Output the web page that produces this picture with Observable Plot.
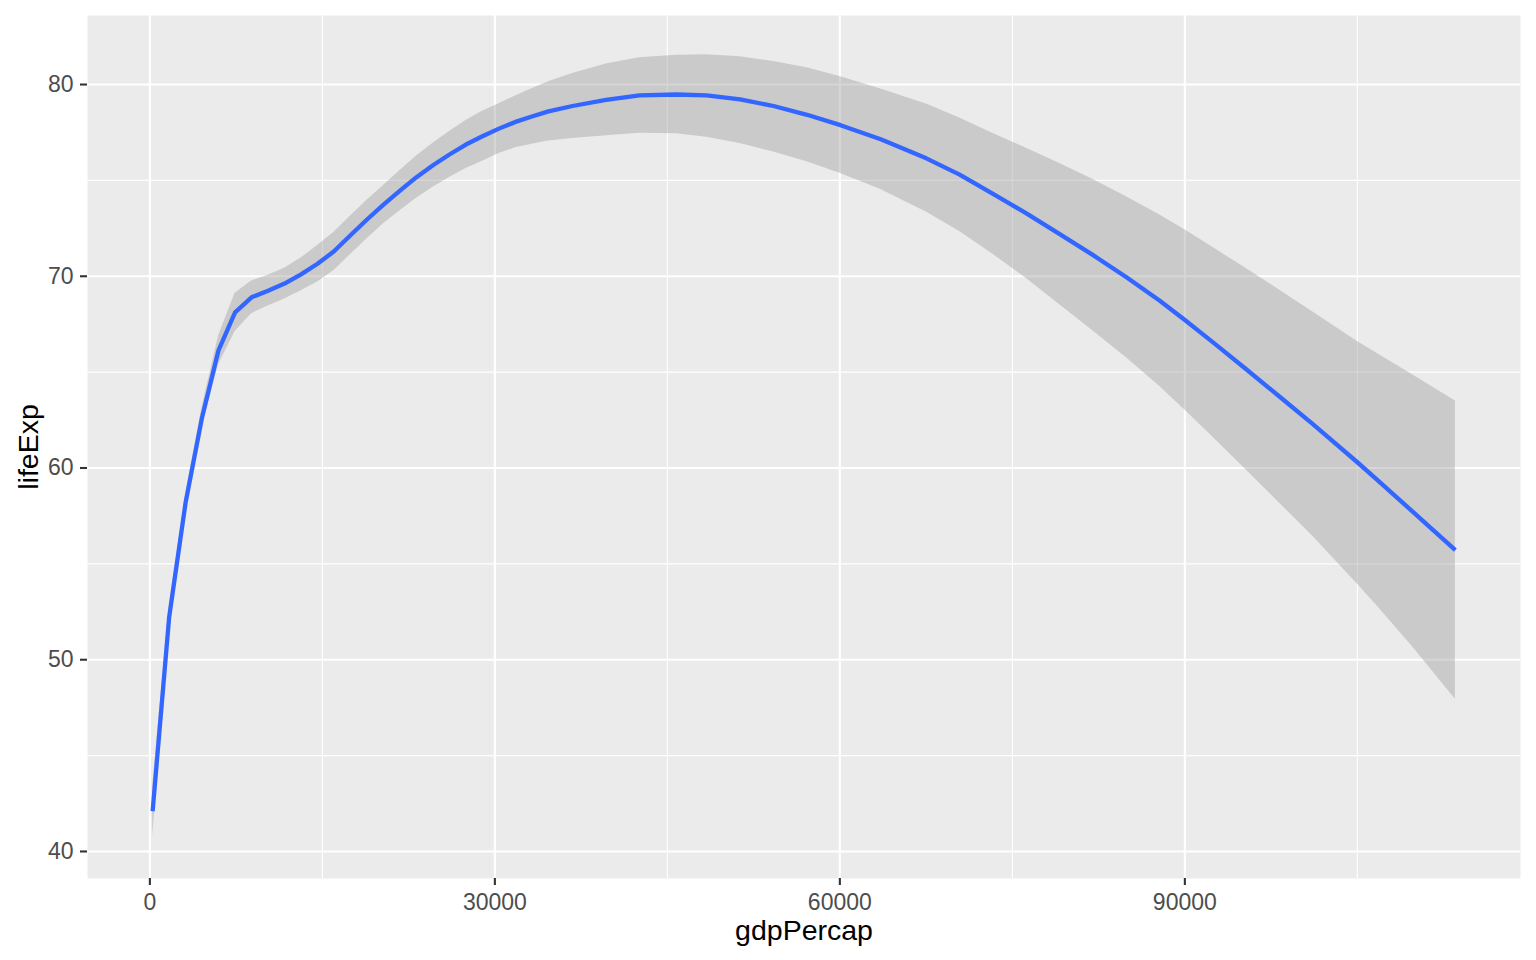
<!DOCTYPE html>
<html>
<head>
<meta charset="utf-8">
<script src="https://cdn.jsdelivr.net/npm/d3@7"></script>
<script src="https://cdn.jsdelivr.net/npm/@observablehq/plot@0.6"></script>
<style>
  html, body { margin: 0; padding: 0; background: #ffffff; overflow: hidden; }
  #chart svg { display: block; }
</style>
</head>
<body>
<div id="chart"></div>
<script>
// loess fit of lifeExp on gdpPercap with its confidence band
const gdpPercap = [241, 1675, 3109, 4543, 5977, 7411, 8845, 10279, 11713, 13147,
  14581, 16015, 17449, 18883, 20317, 21751, 23185, 24619, 26053, 27487,
  28921, 30355, 31789, 33223, 34657, 36757, 39670, 42582, 45800, 48408,
  51320, 54233, 57146, 60058, 63554, 67515, 70416, 73317, 76218, 79120,
  82021, 84922, 87823, 90000, 92452, 95336, 98220, 101105, 105000, 106874,
  109758, 113523];
const lifeExp = [42.1, 52.2, 58.2, 62.65, 66.15, 68.12, 68.9, 69.25, 69.62, 70.1,
  70.65, 71.3, 72.14, 72.96, 73.74, 74.47, 75.17, 75.79, 76.35, 76.87,
  77.3, 77.7, 78.05, 78.33, 78.6, 78.88, 79.2, 79.43, 79.48, 79.43,
  79.22, 78.88, 78.42, 77.88, 77.15, 76.15, 75.3, 74.3, 73.28, 72.2,
  71.1, 69.95, 68.72, 67.72, 66.55, 65.15, 63.73, 62.3, 60.3, 59.3,
  57.75, 55.72];
const lower = [40.8, 51.6, 57.75, 62.1, 65.4, 67.12, 68.05, 68.45, 68.82, 69.25,
  69.7, 70.3, 71.14, 71.96, 72.74, 73.42, 74.07, 74.64, 75.15, 75.62,
  76.0, 76.4, 76.7, 76.88, 77.05, 77.18, 77.33, 77.46, 77.43, 77.25,
  76.92, 76.48, 75.97, 75.36, 74.53, 73.35, 72.33, 71.15, 69.88, 68.52,
  67.15, 65.75, 64.25, 63.02, 61.6, 59.9, 58.18, 56.45, 53.95, 52.7,
  50.7, 47.94];
const upper = [43.4, 52.8, 58.65, 63.2, 66.9, 69.12, 69.75, 70.05, 70.42, 70.95,
  71.6, 72.3, 73.14, 73.96, 74.74, 75.52, 76.27, 76.94, 77.55, 78.12,
  78.6, 79.0, 79.4, 79.78, 80.15, 80.58, 81.07, 81.4, 81.53, 81.55,
  81.45, 81.2, 80.87, 80.4, 79.77, 78.98, 78.25, 77.45, 76.68, 75.88,
  75.05, 74.15, 73.19, 72.42, 71.5, 70.4, 69.28, 68.15, 66.6, 65.92,
  64.87, 63.5];

const xTicks = [0, 30000, 60000, 90000];
const xMinor = [15000, 45000, 75000, 105000];
const yTicks = [40, 50, 60, 70, 80];
const yMinor = [45, 55, 65, 75];
const xTitle = "gdpPercap";
const yTitle = "lifeExp";

const smooth = gdpPercap.map((x, i) => ({x, y: lifeExp[i], lo: lower[i], hi: upper[i]}));

const font = "'Liberation Sans', Arimo, Arial, sans-serif";

const chart = Plot.plot({
  width: 1536,
  height: 960,
  marginLeft: 87,
  marginRight: 16,
  marginTop: 15,
  marginBottom: 82,
  style: {fontFamily: font, background: "#ffffff", overflow: "visible"},
  x: {domain: [-5423, 119187]},
  y: {domain: [38.59, 83.6]},
  marks: [
    Plot.frame({fill: "#EBEBEB", stroke: null}),
    Plot.ruleX(xMinor, {stroke: "#ffffff", strokeWidth: 1.1}),
    Plot.ruleY(yMinor, {stroke: "#ffffff", strokeWidth: 1.1}),
    Plot.ruleX(xTicks, {stroke: "#ffffff", strokeWidth: 2.1}),
    Plot.ruleY(yTicks, {stroke: "#ffffff", strokeWidth: 2.1}),
    Plot.areaY(smooth, {x: "x", y1: "lo", y2: "hi", fill: "#999999", fillOpacity: 0.4, curve: "linear"}),
    Plot.line(smooth, {x: "x", y: "y", stroke: "#3366FF", strokeWidth: 4.3, curve: "linear", strokeLinecap: "butt", strokeLinejoin: "round"}),
    Plot.axisX(xTicks, {tickFormat: d => String(d), tickSize: 7, tickPadding: 8,
      fontSize: 23, stroke: "#333333", strokeWidth: 2.1, fill: "#4D4D4D", label: null}),
    Plot.axisY(yTicks, {tickFormat: d => String(d), tickSize: 7, tickPadding: 7,
      fontSize: 23, stroke: "#333333", strokeWidth: 2.1, fill: "#4D4D4D", label: null}),
    Plot.text([xTitle], {frameAnchor: "bottom", lineAnchor: "middle", textAnchor: "middle", dy: 52, fontSize: 28.5, fill: "#000000"}),
    Plot.text([yTitle], {frameAnchor: "left", lineAnchor: "middle", textAnchor: "middle", dx: -59, rotate: -90, fontSize: 28.5, fill: "#000000"})
  ]
});
document.getElementById("chart").appendChild(chart);
</script>
</body>
</html>
